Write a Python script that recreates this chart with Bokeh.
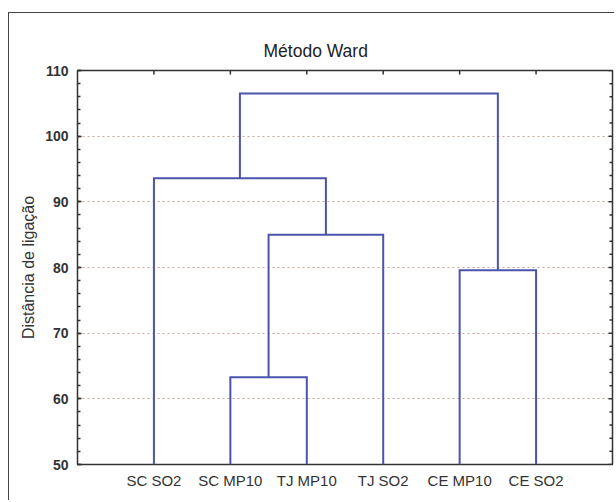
from bokeh.plotting import figure
from bokeh.embed import file_html
from bokeh.resources import INLINE
from bokeh.models import (FixedTicker, SingleIntervalTicker, Title,
                          Range1d, ColumnDataSource)
import math

# ---- data ----
leaf_labels = ["SC SO2", "SC MP10", "TJ MP10", "TJ SO2", "CE MP10", "CE SO2"]
# merges: (left child, right child, linkage distance); children < 6 are leaves,
# children >= 6 refer to earlier merges (6 + merge index)
merge_left = [1, 6, 4, 0, 9]
merge_right = [2, 3, 5, 7, 8]
merge_height = [63.3, 85.0, 79.6, 93.6, 106.5]
y_min, y_max, y_step, y_minor_step = 50, 110, 10, 2

title_text = "Método Ward"
y_label_text = "Distância de ligação"

# ---- dendrogram geometry derived from the tree ----
n = len(leaf_labels)
leaf_pos = [i + 1 for i in range(n)]
node_x = {i: float(leaf_pos[i]) for i in range(n)}
node_y = {i: float(y_min) for i in range(n)}
xs, ys = [], []
for k, (a, b, h) in enumerate(zip(merge_left, merge_right, merge_height)):
    xa, xb = node_x[a], node_x[b]
    xs.append([xa, xa, xb, xb])
    ys.append([node_y[a], h, h, node_y[b]])
    node_x[n + k] = (xa + xb) / 2.0
    node_y[n + k] = h

FONT = "Liberation Sans"
LINE = "#4a54ad"
DARK = "#333333"

p = figure(width=606, height=488,
           x_range=Range1d(0, n + 1), y_range=Range1d(y_min, y_max),
           output_backend="svg", toolbar_location=None,
           min_border_left=68, min_border_right=3,
           min_border_top=57, min_border_bottom=37)
p.styles = {"margin-left": "8px", "margin-top": "12px",
            "border-left": "1.5px solid #444", "border-top": "1.5px solid #444"}
p.background_fill_color = "white"
p.border_fill_color = "white"
p.outline_line_color = DARK
p.outline_line_width = 1.5

# title
p.title.text = title_text
p.title.align = "left"
p.title.offset = 186
p.title.standoff = 19
p.title.text_font = FONT
p.title.text_font_size = "17.5px"
p.title.text_font_style = "normal"
p.title.text_color = "#222222"

# grid
p.xgrid.visible = False
p.ygrid.ticker = SingleIntervalTicker(interval=y_step)
p.ygrid.grid_line_color = "#c8a49c"
p.ygrid.grid_line_dash = "2 3"
p.ygrid.grid_line_width = 1

# left axis
yax = p.yaxis[0]
yax.ticker = SingleIntervalTicker(interval=y_step, num_minor_ticks=y_step // y_minor_step)
yax.axis_line_color = None
yax.major_tick_in = 4
yax.major_tick_out = 0
yax.minor_tick_in = 3
yax.minor_tick_out = 0
yax.major_tick_line_color = DARK
yax.minor_tick_line_color = DARK
yax.major_tick_line_width = 1.5
yax.minor_tick_line_width = 1.5
yax.major_label_standoff = 9
yax.major_label_text_font = FONT
yax.major_label_text_font_size = "14px"
yax.major_label_text_font_style = "bold"
yax.major_label_text_color = DARK

# y axis title (left side, shifted up like the reference)
p.add_layout(Title(text=y_label_text, align="center", offset=13, standoff=11,
                   text_font=FONT, text_font_size="16px", text_font_style="normal",
                   text_color=DARK), "left")

# bottom axis
xax = p.xaxis[0]
xax.ticker = FixedTicker(ticks=leaf_pos)
xax.major_label_overrides = {pos: lab for pos, lab in zip(leaf_pos, leaf_labels)}
xax.axis_line_color = None
xax.major_tick_in = 0
xax.major_tick_out = 0
xax.minor_tick_line_color = None
xax.major_label_standoff = 7
xax.major_label_text_font = FONT
xax.major_label_text_font_size = "15px"
xax.major_label_text_color = DARK

# inner ticks on right and top frame edges (half of each dash is clipped)
right_ticks = list(range(y_min, y_max + 1, y_minor_step))
right_size = [8 if (t - y_min) % y_step == 0 else 6 for t in right_ticks]
p.scatter(x=[n + 1] * len(right_ticks), y=right_ticks, size=right_size,
          marker="dash", line_color=DARK, line_width=1.5)
p.scatter(x=leaf_pos, y=[y_max] * n, size=8, marker="dash", angle=math.pi / 2,
          line_color=DARK, line_width=1.5)

# dendrogram
src = ColumnDataSource(dict(xs=xs, ys=ys))
p.multi_line(xs="xs", ys="ys", source=src, line_color=LINE, line_width=2,
             line_join="miter")

open("out.html", "w").write(file_html(p, INLINE))
